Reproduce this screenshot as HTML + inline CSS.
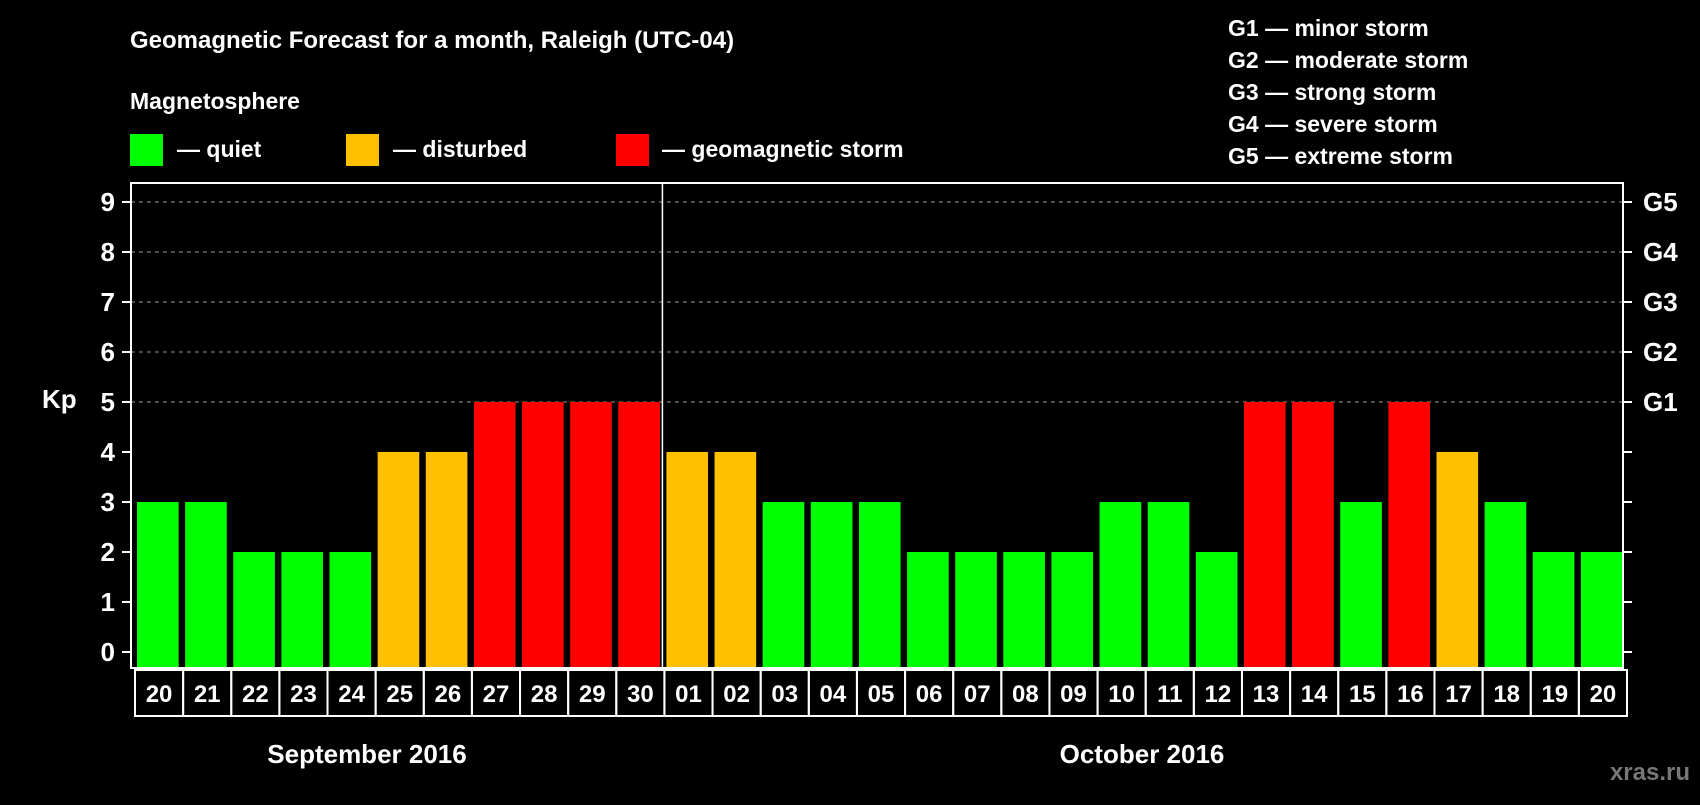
<!DOCTYPE html>
<html><head><meta charset="utf-8"><style>
body{margin:0;background:#000;width:1700px;height:800px;overflow:hidden;font-family:"Liberation Sans",sans-serif;}
svg text{font-family:"Liberation Sans",sans-serif;font-weight:bold;fill:#fff;}
</style></head><body>
<svg id="c" width="1700" height="800">
<text x="130" y="48" font-size="24">Geomagnetic Forecast for a month, Raleigh (UTC-04)</text>
<text x="130" y="109" font-size="23">Magnetosphere</text>
<rect x="130" y="134" width="33" height="32" fill="#00ff00"/>
<text x="177" y="157" font-size="23">— quiet</text>
<rect x="346" y="134" width="33" height="32" fill="#ffc000"/>
<text x="393" y="157" font-size="23">— disturbed</text>
<rect x="616" y="134" width="33" height="32" fill="#ff0000"/>
<text x="662" y="157" font-size="23">— geomagnetic storm</text>
<g font-size="23">
<text x="1228" y="36">G1 — minor storm</text>
<text x="1228" y="68">G2 — moderate storm</text>
<text x="1228" y="100">G3 — strong storm</text>
<text x="1228" y="132">G4 — severe storm</text>
<text x="1228" y="164">G5 — extreme storm</text>
</g>
<text x="42" y="408" font-size="26">Kp</text>
<text x="367" y="763" font-size="26" text-anchor="middle">September 2016</text>
<text x="1142" y="763" font-size="26" text-anchor="middle">October 2016</text>
<text x="1690" y="780" font-size="24" text-anchor="end" style="fill:#777">xras.ru</text>
<g id="plot"></g>
</svg>
<script>
const days=["20","21","22","23","24","25","26","27","28","29","30","01","02","03","04","05","06","07","08","09","10","11","12","13","14","15","16","17","18","19","20"];
const kp=[3,3,2,2,2,4,4,5,5,5,5,4,4,3,3,3,2,2,2,2,3,3,2,5,5,3,5,4,3,2,2];
const yTicks=[0,1,2,3,4,5,6,7,8,9];
const gLabels=["G1","G2","G3","G4","G5"];
const gLevels=[5,6,7,8,9];
const L=131,R=1623,T=183,B=668,Y0=652,UNIT=50;
const pitch=(R-L)/days.length;
const y=v=>Y0-v*UNIT;
const x=i=>L+i*pitch;
const ns="http://www.w3.org/2000/svg";
const g=document.getElementById('plot');
function mk(t,a){const e=document.createElementNS(ns,t);for(const k in a)e.setAttribute(k,a[k]);g.appendChild(e);return e;}
gLevels.forEach((v,i)=>{
 const l=mk('line',{x1:L,x2:R,y1:y(v),y2:y(v),stroke:'#999','stroke-dasharray':'4 4','stroke-width':1});
 
 
 const t=mk('text',{x:1643,y:y(v)+9,'font-size':26});
 t.textContent=gLabels[i];
 
 
});
yTicks.forEach(v=>{
 const a=mk('line',{x1:L-9,x2:L,y1:y(v),y2:y(v),stroke:'#fff','stroke-width':2});
 
 
 const b=mk('line',{x1:R,x2:R+9,y1:y(v),y2:y(v),stroke:'#fff','stroke-width':2});
 
 
 const t=mk('text',{x:L-16,y:y(v)+9,'font-size':26,'text-anchor':'end'});
 t.textContent=v;
 
 
});
kp.forEach((v,i)=>{
 const c=v>=5?'#ff0000':v>=4?'#ffc000':'#00ff00';
 const r=mk('rect',{x:x(i)+6,y:y(v),width:pitch-6.5,height:B-y(v),fill:c});
 
 
 const bx=mk('rect',{x:x(i)+4,y:670,width:pitch,height:46,fill:'none',stroke:'#fff','stroke-width':2});
 
 
 const t=mk('text',{x:x(i)+4+pitch/2,y:702,'font-size':24,'text-anchor':'middle'});
 t.textContent=days[i];
 
 
});
const fr=mk('rect',{x:L,y:T,width:R-L,height:B-T,fill:'none',stroke:'#fff','stroke-width':2});


const dv=mk('line',{x1:x(11)+2,x2:x(11)+2,y1:T,y2:B,stroke:'#fff','stroke-width':1.5});


</script>
</body></html>
